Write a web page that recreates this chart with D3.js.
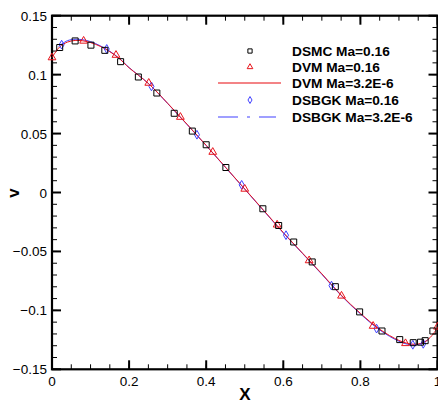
<!DOCTYPE html>
<html>
<head>
<meta charset="utf-8">
<script src="https://cdn.jsdelivr.net/npm/d3@7"></script>
<style>
  body { margin: 0; background: #fff; }
  text { font-family: "Liberation Sans", Arial, Helvetica, sans-serif; }
</style>
</head>
<body>
<svg id="chart" width="438" height="405"></svg>
<script>
// DSMC Ma=0.16 (black squares)
var dsmcX = [0.02, 0.06, 0.101, 0.137, 0.178, 0.224, 0.272, 0.317, 0.364, 0.400, 0.451, 0.547, 0.588, 0.627, 0.675, 0.735, 0.798, 0.856, 0.902, 0.937, 0.956, 0.968, 0.988];
var dsmcV = [0.123, 0.1286, 0.125, 0.1206, 0.111, 0.098, 0.0844, 0.0672, 0.0521, 0.0405, 0.0212, -0.0138, -0.028, -0.042, -0.0589, -0.0799, -0.1013, -0.1175, -0.1248, -0.1274, -0.127, -0.1257, -0.1175];

// DVM Ma=0.16 (red triangles)
var dvmX = [0.0, 0.082, 0.166, 0.251, 0.333, 0.417, 0.500, 0.584, 0.667, 0.751, 0.833, 0.917, 1.0];
var dvmV = [0.1145, 0.1286, 0.1166, 0.0929, 0.064, 0.0343, 0.003, -0.0274, -0.0577, -0.0877, -0.1133, -0.128, -0.114];

// DSBGK Ma=0.16 (blue diamonds)
var bgkX = [0.025, 0.142, 0.258, 0.376, 0.492, 0.607, 0.725, 0.842, 0.936, 0.963];
var bgkV = [0.1254, 0.1218, 0.090, 0.049, 0.0065, -0.0362, -0.079, -0.1155, -0.1292, -0.1284];

// DVM Ma=3.2E-6 (red line)
var dvmLineX = [0.0, 0.02, 0.04, 0.06, 0.08, 0.10, 0.125, 0.15, 0.175, 0.2, 0.25, 0.3, 0.35, 0.4, 0.45, 0.5, 0.55, 0.6, 0.65, 0.7, 0.75, 0.8, 0.85, 0.9, 0.93, 0.95, 0.97, 0.99, 1.0];
var dvmLineV = [0.1145, 0.1235, 0.1276, 0.1290, 0.1287, 0.1272, 0.1240, 0.1195, 0.1135, 0.1058, 0.0925, 0.0757, 0.0580, 0.0400, 0.0215, 0.0030, -0.0155, -0.0340, -0.0515, -0.0690, -0.0870, -0.1025, -0.1160, -0.1255, -0.1285, -0.1285, -0.1262, -0.1195, -0.1140];

// DSBGK Ma=3.2E-6 (blue dash-dot line)
var bgkLineX = [0.017, 0.04, 0.06, 0.08, 0.10, 0.125, 0.15, 0.175, 0.2, 0.25, 0.3, 0.35, 0.4, 0.45, 0.5, 0.55, 0.6, 0.65, 0.7, 0.75, 0.8, 0.85, 0.9, 0.93, 0.95, 0.975];
var bgkLineV = [0.1240, 0.1288, 0.1300, 0.1296, 0.1280, 0.1245, 0.1198, 0.1137, 0.1060, 0.0925, 0.0755, 0.0578, 0.0398, 0.0213, 0.0028, -0.0158, -0.0343, -0.0518, -0.0694, -0.0874, -0.1030, -0.1166, -0.1262, -0.1292, -0.1290, -0.1250];

var xTicks = [0, 0.2, 0.4, 0.6, 0.8, 1];
var yTicks = [-0.15, -0.1, -0.05, 0, 0.05, 0.1, 0.15];
var legendLabels = ["DSMC Ma=0.16", "DVM Ma=0.16", "DVM Ma=3.2E-6", "DSBGK Ma=0.16", "DSBGK Ma=3.2E-6"];

var red = "#e8141b";
var blue = "#4040ff";

// Scales
var xScale = d3.scaleLinear().domain([0, 1]).range([52, 437.5]);
var yScale = d3.scaleLinear().domain([-0.15, 0.15]).range([369.3, 15.7]);
var pL = 52, pR = 437.5, pB = 369.3, pT = 15.7;

var svg = d3.select("#chart");

// frame
svg.append("rect")
  .attr("x", pL).attr("y", pT)
  .attr("width", pR - pL).attr("height", pB - pT)
  .attr("fill", "none").attr("stroke", "#000").attr("stroke-width", 2.2);

// minor ticks every 0.05 on x and 0.01 on v
var xMinor = d3.range(0, 21).map((i) => i * 0.05);
var yMinor = d3.range(0, 31).map((i) => -0.15 + i * 0.01);

// x ticks, bottom and top, pointing inward
function xTickLines(vals, len, w) {
  vals.forEach((v) => {
    svg.append("line").attr("x1", xScale(v)).attr("x2", xScale(v)).attr("y1", pB).attr("y2", pB - len)
      .attr("stroke", "#000").attr("stroke-width", w);
    svg.append("line").attr("x1", xScale(v)).attr("x2", xScale(v)).attr("y1", pT).attr("y2", pT + len)
      .attr("stroke", "#000").attr("stroke-width", w);
  });
}
// v ticks, left and right, pointing inward
function yTickLines(vals, len, w) {
  vals.forEach((v) => {
    svg.append("line").attr("y1", yScale(v)).attr("y2", yScale(v)).attr("x1", pL).attr("x2", pL + len)
      .attr("stroke", "#000").attr("stroke-width", w);
    svg.append("line").attr("y1", yScale(v)).attr("y2", yScale(v)).attr("x1", pR).attr("x2", pR - len)
      .attr("stroke", "#000").attr("stroke-width", w);
  });
}
xTickLines(xMinor, 5, 1);
yTickLines(yMinor, 5, 1);
xTickLines(xTicks, 9, 2);
yTickLines(yTicks, 9, 2);

// tick labels
var fmt = d3.format("~g");
svg.append("g").selectAll("text")
  .data(xTicks)
  .enter()
  .append("text")
  .attr("x", (d) => xScale(d))
  .attr("y", pB + 17)
  .attr("text-anchor", "middle")
  .style("font-size", "13.5px")
  .text((d) => fmt(d));
svg.append("g").selectAll("text")
  .data(yTicks)
  .enter()
  .append("text")
  .attr("x", pL - 5)
  .attr("y", (d) => yScale(d) + 5)
  .attr("text-anchor", "end")
  .style("font-size", "13.5px")
  .text((d) => fmt(d));

// Axis titles
svg.append("text")
  .attr("x", 245).attr("y", 400)
  .attr("text-anchor", "middle")
  .style("font-weight", "bold").style("font-size", "17px")
  .text("X");
svg.append("text")
  .attr("transform", "translate(19,193) rotate(-90)")
  .attr("text-anchor", "middle")
  .style("font-weight", "bold").style("font-size", "17px")
  .text("v");

// Curves
var line = d3.line().x((d) => xScale(d[0])).y((d) => yScale(d[1])).curve(d3.curveCatmullRom);
svg.append("path")
  .attr("d", line(d3.zip(bgkLineX, bgkLineV)))
  .attr("fill", "none").attr("stroke", blue).attr("stroke-width", 1);
svg.append("path")
  .attr("d", line(d3.zip(dvmLineX, dvmLineV)))
  .attr("fill", "none").attr("stroke", red).attr("stroke-width", 1);

// Marker shapes
var sq = d3.symbol().type(d3.symbolSquare).size(36);
var tri = d3.symbol().type(d3.symbolTriangle).size(26);
var dia = d3.symbol().type(d3.symbolDiamond).size(22);

function markers(xs, vs, sym, color) {
  svg.append("g").selectAll("path")
    .data(d3.zip(xs, vs))
    .enter()
    .append("path")
    .attr("d", sym)
    .attr("transform", (d) => "translate(" + xScale(d[0]) + "," + yScale(d[1]) + ")")
    .attr("fill", "none").attr("stroke", color).attr("stroke-width", 1);
}
markers(bgkX, bgkV, dia, blue);
markers(dvmX, dvmV, tri, red);
markers(dsmcX, dsmcV, sq, "#000");

// Legend
var ly = [51, 67, 83, 100, 117];
var lg = svg.append("g");
lg.selectAll("text")
  .data(legendLabels)
  .enter()
  .append("text")
  .attr("x", 292)
  .attr("y", (d, i) => ly[i] + 5)
  .style("font-weight", "bold").style("font-size", "13.7px")
  .text((d) => d);
lg.append("path").attr("d", d3.symbol().type(d3.symbolSquare).size(18))
  .attr("transform", "translate(250," + ly[0] + ")")
  .attr("fill", "none").attr("stroke", "#000");
lg.append("path").attr("d", d3.symbol().type(d3.symbolTriangle).size(14))
  .attr("transform", "translate(250," + ly[1] + ")")
  .attr("fill", "none").attr("stroke", red);
lg.append("line").attr("x1", 218).attr("x2", 281).attr("y1", ly[2]).attr("y2", ly[2])
  .attr("stroke", red).attr("stroke-width", 1.5).attr("opacity", 0.7);
lg.append("path").attr("d", d3.symbol().type(d3.symbolDiamond).size(14))
  .attr("transform", "translate(250," + ly[3] + ")")
  .attr("fill", "none").attr("stroke", blue);
lg.append("line").attr("x1", 218).attr("x2", 276).attr("y1", ly[4]).attr("y2", ly[4])
  .attr("stroke", blue).attr("stroke-width", 1.2)
  .attr("stroke-dasharray", "20,9,3,9");
</script>
</body>
</html>
